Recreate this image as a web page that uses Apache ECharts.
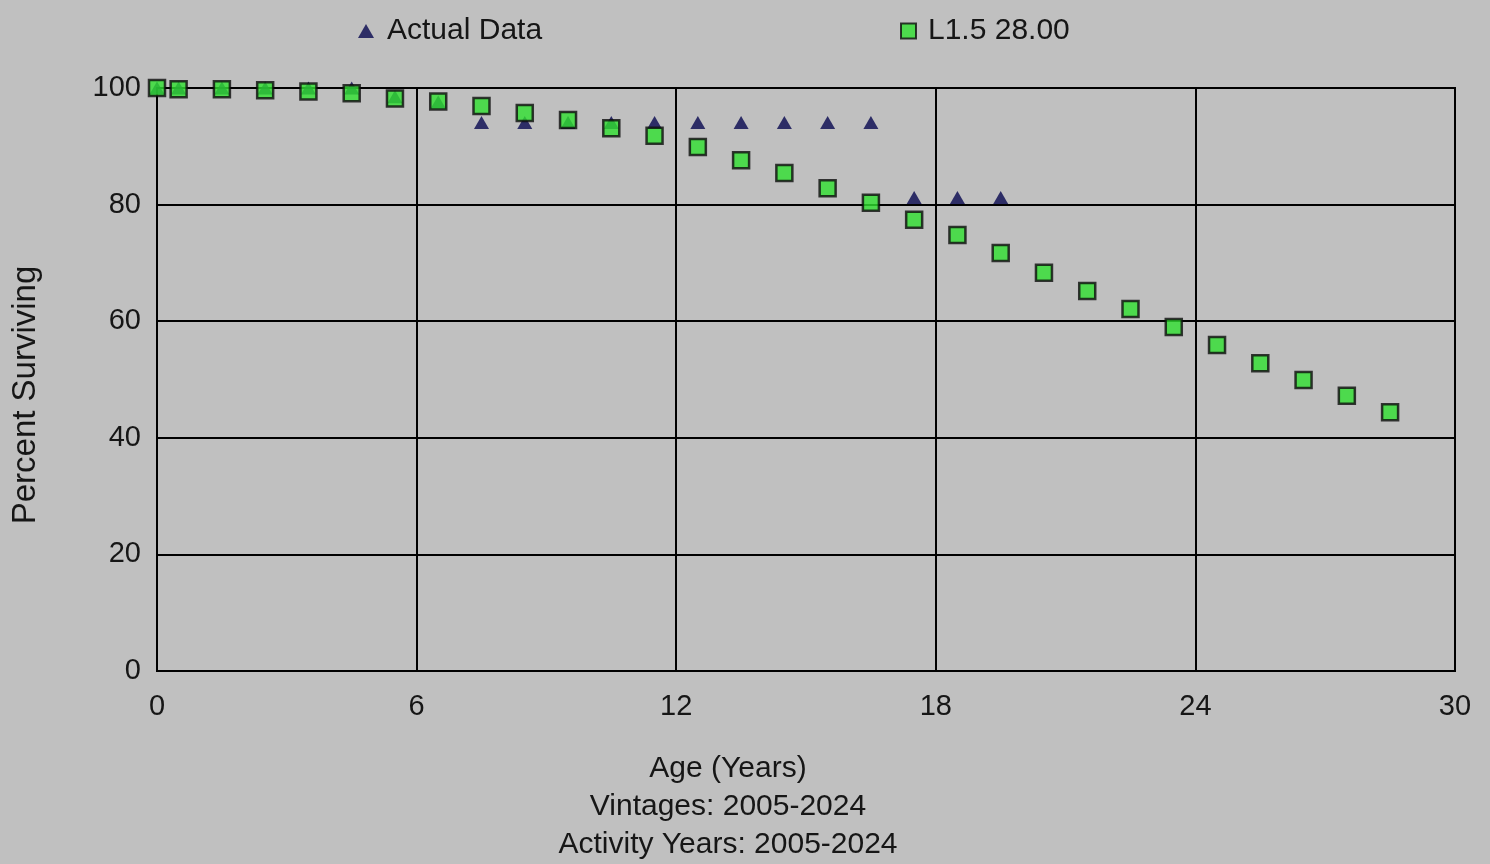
<!DOCTYPE html>
<html>
<head>
<meta charset="utf-8">
<script src="https://cdn.jsdelivr.net/npm/echarts@6/dist/echarts.min.js"></script>
<style>
html,body{margin:0;padding:0;background:#c0c0c0;}
#c{width:1490px;height:864px;}
</style>
</head>
<body>
<div id="c"></div>
<script>
var actualAges = [0,0.5,1.5,2.5,3.5,4.5,5.5,6.5,7.5,8.5,9.5,10.5,11.5,12.5,13.5,14.5,15.5,16.5,17.5,18.5,19.5];
var actualValues = [100,100,100,100,100,100,98.5,97.6,94.1,94.1,94.1,94.1,94.1,94.1,94.1,94.1,94.1,94.1,81.2,81.2,81.2];
var curveAges = [0,0.5,1.5,2.5,3.5,4.5,5.5,6.5,7.5,8.5,9.5,10.5,11.5,12.5,13.5,14.5,15.5,16.5,17.5,18.5,19.5,20.5,21.5,22.5,23.5,24.5,25.5,26.5,27.5,28.5];
var curveValues = [100,99.8,99.8,99.6,99.4,99.1,98.2,97.7,96.9,95.7,94.5,93.1,91.8,89.9,87.6,85.4,82.8,80.3,77.4,74.8,71.7,68.3,65.2,62.1,59.0,55.9,52.8,49.9,47.2,44.4];
var xTicks = [0,6,12,18,24,30];
var yTicks = [0,20,40,60,80,100];
var seriesNames = ['Actual Data','L1.5 28.00'];
var xTitleLines = ['Age (Years)','Vintages: 2005-2024','Activity Years: 2005-2024'];
var yTitle = 'Percent Surviving';

function pairs(xs, ys){ return xs.map(function(x,i){ return [x, ys[i]]; }); }

var FONT = '"Liberation Sans", Arial, sans-serif';
var TXT = '#161616';
var chart = echarts.init(document.getElementById('c'), null, {renderer:'canvas'});
chart.setOption({
  backgroundColor:'#c0c0c0',
  animation:false,
  textStyle:{fontFamily:FONT},
  legend:[
    {data:[seriesNames[0]], left:353, top:11, itemWidth:16, itemHeight:14, itemGap:10,
     textStyle:{fontSize:30, color:TXT, fontFamily:FONT, padding:[0,0,0,8]}},
    {data:[seriesNames[1]], left:895, top:11, itemWidth:15, itemHeight:15, itemGap:10,
     textStyle:{fontSize:30, color:TXT, fontFamily:FONT, padding:[0,0,0,7]}}
  ],
  grid:{left:157, right:35, top:88, bottom:193, show:true, borderColor:'#000', borderWidth:2, backgroundColor:'transparent'},
  xAxis:{type:'value', min:0, max:30, interval:6,
    axisLine:{show:true, lineStyle:{color:'#000', width:2}},
    axisTick:{show:false},
    axisLabel:{fontSize:29, color:TXT, margin:21, fontFamily:FONT, customValues:xTicks},
    splitLine:{show:true, lineStyle:{color:'#000', width:2}}
  },
  yAxis:{type:'value', min:0, max:100, interval:20,
    axisLine:{show:true, lineStyle:{color:'#000', width:2}},
    axisTick:{show:false},
    axisLabel:{fontSize:29, color:TXT, margin:16, fontFamily:FONT, customValues:yTicks},
    splitLine:{show:true, lineStyle:{color:'#000', width:2}}
  },
  graphic:[
    {type:'text', x:728, y:750, style:{text:xTitleLines.join('\n'), font:'30px '+FONT, fill:TXT, align:'center', verticalAlign:'top', lineHeight:38}},
    {type:'text', x:26, y:395, rotation:Math.PI/2, style:{text:yTitle, font:'33px '+FONT, fill:TXT, align:'center', verticalAlign:'middle'}}
  ],
  series:[
    {name:seriesNames[0], type:'scatter', symbol:'triangle', symbolSize:[15,13], z:2,
     itemStyle:{color:'#08084f', borderWidth:0},
     data:pairs(actualAges, actualValues)},
    {name:seriesNames[1], type:'scatter', symbol:'rect', symbolSize:16, z:3,
     itemStyle:{color:'#2fe02f', borderColor:'#0c0c0c', borderWidth:2.5},
     data:pairs(curveAges, curveValues)}
  ]
});
</script>
</body>
</html>
